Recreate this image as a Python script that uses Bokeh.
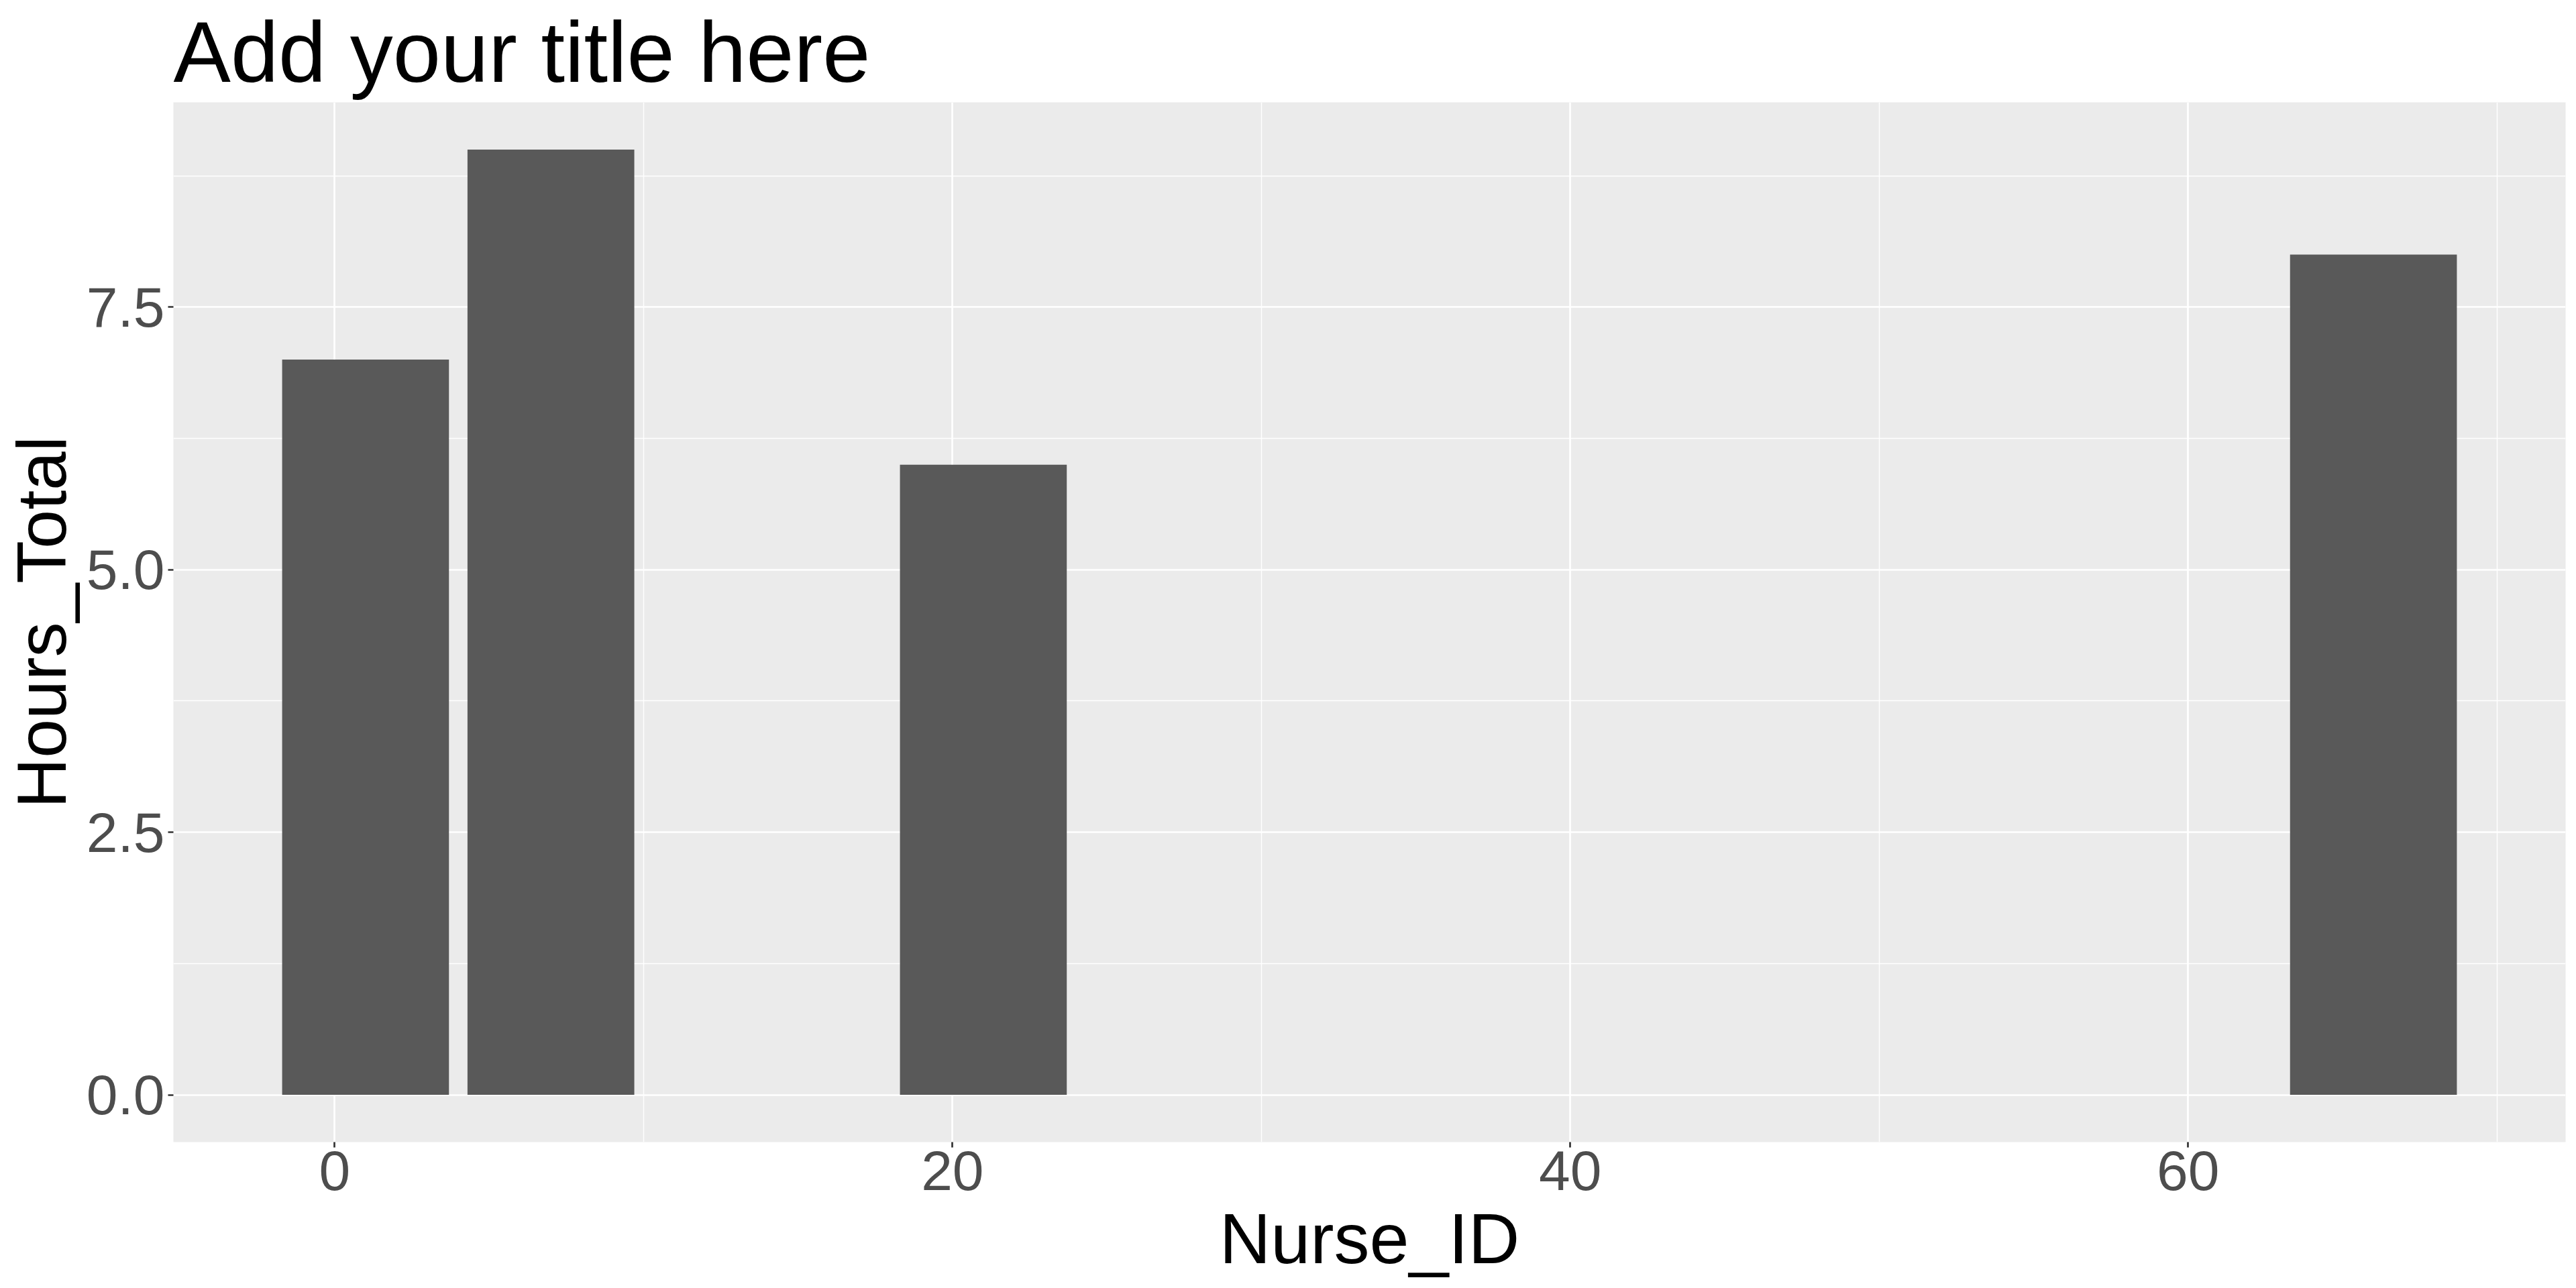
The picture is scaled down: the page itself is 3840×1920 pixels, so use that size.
import numpy as np
from bokeh.plotting import figure
from bokeh.models import FixedTicker, PrintfTickFormatter, Range1d, ColumnDataSource
from bokeh.embed import file_html
from bokeh.resources import INLINE

# Data
nurse_ids = [1, 7, 21, 66]
hours_total = [7, 9, 6, 8]
x_ticks = [0, 20, 40, 60]
x_minor = [10, 30, 50, 70]
y_ticks = [0, 2.5, 5.0, 7.5]
y_minor = [1.25, 3.75, 6.25, 8.75]
title_text = "Add your title here"
x_title = "Nurse_ID"
y_title = "Hours_Total"

bar_w = 0.9 * float(np.min(np.diff(sorted(nurse_ids))))
xlo = min(nurse_ids) - bar_w / 2
xhi = max(nurse_ids) + bar_w / 2
xpad = 0.05 * (xhi - xlo)
ylo, yhi = 0, max(hours_total)
ypad = 0.05 * (yhi - ylo)

FONT = "Liberation Sans"
W, H = 3832, 1912

p = figure(width=W, height=H, output_backend="svg", toolbar_location=None,
           x_range=Range1d(xlo - xpad, xhi + xpad), y_range=Range1d(ylo - ypad, yhi + ypad),
           min_border_left=255, min_border_right=8, min_border_top=150, min_border_bottom=210,
           background_fill_color="#EBEBEB", border_fill_color="white")
p.outline_line_color = None

src = ColumnDataSource(dict(x=nurse_ids, top=hours_total))
p.vbar(x="x", top="top", bottom=0, width=bar_w, source=src, fill_color="#595959", line_color=None)

# Title
p.title.text = title_text
p.title.text_font = FONT
p.title.text_font_size = "128px"
p.title.text_font_style = "normal"
p.title.text_color = "black"
p.title.align = "left"
p.title.standoff = 7
p.title.offset = 0

# Axes
p.xaxis.ticker = FixedTicker(ticks=x_ticks, minor_ticks=x_minor)
p.yaxis.ticker = FixedTicker(ticks=y_ticks, minor_ticks=y_minor)
p.yaxis.formatter = PrintfTickFormatter(format="%.1f")
p.xaxis.axis_label = x_title
p.yaxis.axis_label = y_title
for ax in (p.xaxis, p.yaxis):
    ax.axis_line_color = None
    ax.minor_tick_line_color = None
    ax.major_tick_line_color = "#333333"
    ax.major_tick_line_width = 2.7
    ax.major_tick_in = 0
    ax.major_tick_out = 8
    ax.major_label_text_font = FONT
    ax.major_label_text_font_size = "84px"
    ax.major_label_text_color = "#4D4D4D"
    ax.axis_label_text_font = FONT
    ax.axis_label_text_font_style = "normal"
    ax.axis_label_text_color = "black"
p.xaxis.axis_label_text_font_size = "106px"
p.yaxis.axis_label_text_font_size = "104px"
p.xaxis.major_label_standoff = 5
p.yaxis.major_label_standoff = 5
p.xaxis.axis_label_standoff = 10
p.yaxis.axis_label_standoff = 6

# Grid
for g in (p.xgrid, p.ygrid):
    g.grid_line_color = "white"
    g.grid_line_width = 2.7
    g.minor_grid_line_color = "white"
    g.minor_grid_line_width = 1.4

open("out.html", "w").write(file_html(p, INLINE))
